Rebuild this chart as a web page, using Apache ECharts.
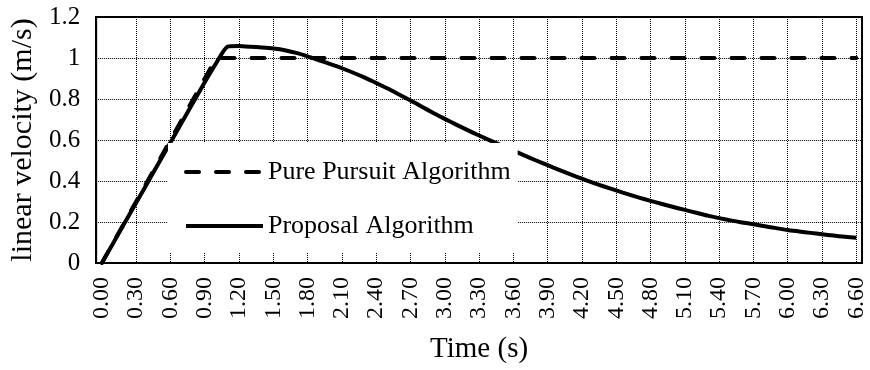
<!DOCTYPE html>
<html>
<head>
<meta charset="utf-8">
<script src="https://cdn.jsdelivr.net/npm/echarts@6/dist/echarts.min.js"></script>
<style>
html,body{margin:0;padding:0;background:#fff;}
#main{width:870px;height:370px;}
</style>
</head>
<body>
<div id="main"></div>
<script>
var times = ["0.00","0.10","0.20","0.30","0.40","0.50","0.60","0.70","0.80","0.90",
"1.00","1.10","1.20","1.30","1.40","1.50","1.60","1.70","1.80","1.90",
"2.00","2.10","2.20","2.30","2.40","2.50","2.60","2.70","2.80","2.90",
"3.00","3.10","3.20","3.30","3.40","3.50","3.60","3.70","3.80","3.90",
"4.00","4.10","4.20","4.30","4.40","4.50","4.60","4.70","4.80","4.90",
"5.00","5.10","5.20","5.30","5.40","5.50","5.60","5.70","5.80","5.90",
"6.00","6.10","6.20","6.30","6.40","6.50","6.60"];

var purePursuit = [0,0.1,0.2,0.3,0.4,0.5,0.6,0.7,0.8,0.9,
1,1,1,1,1,1,1,1,1,1,
1,1,1,1,1,1,1,1,1,1,
1,1,1,1,1,1,1,1,1,1,
1,1,1,1,1,1,1,1,1,1,
1,1,1,1,1,1,1,1,1,1,
1,1,1,1,1,1,1];

var proposal = [0,0.098,0.196,0.294,0.392,0.49,0.588,0.686,0.784,0.882,
0.975,1.055,1.058,1.055,1.051,1.046,1.038,1.025,1.008,0.989,
0.97,0.95,0.928,0.904,0.878,0.851,0.822,0.793,0.762,0.732,
0.703,0.675,0.648,0.622,0.597,0.572,0.548,0.524,0.5,0.477,
0.454,0.432,0.411,0.391,0.372,0.354,0.336,0.319,0.303,0.288,
0.273,0.259,0.245,0.231,0.219,0.208,0.198,0.189,0.179,0.17,
0.161,0.154,0.147,0.14,0.134,0.128,0.123];

var seriesNames = ["Pure Pursuit Algorithm","Proposal Algorithm"];
var yAxisTitle = "linear velocity (m/s)";
var xAxisTitle = "Time (s)";

var FONT = "'Liberation Serif','Times New Roman',serif";
var hiddenDot = {color:'rgba(0,0,0,0)',borderWidth:0,opacity:0};
var chart = echarts.init(document.getElementById('main'), null, {renderer:'canvas'});
chart.setOption({
  animation:false,
  backgroundColor:'#fff',
  grid:{left:91,right:8,top:17,bottom:107,show:true,borderColor:'#000',borderWidth:2,containLabel:false},
  legend:{
    orient:'vertical',left:168,top:143,
    padding:[14,7,12,16],
    itemGap:24,itemWidth:77,itemHeight:4,
    backgroundColor:'#fff',
    textStyle:{fontFamily:FONT,fontSize:26,color:'#000',lineHeight:30},
    data:[
      {name:seriesNames[0],itemStyle:hiddenDot,lineStyle:{color:'#000',width:4,type:[13,17],cap:'round'}},
      {name:seriesNames[1],itemStyle:hiddenDot,lineStyle:{color:'#000',width:4,type:'solid'}}
    ]
  },
  xAxis:{
    type:'category',data:times,boundaryGap:true,
    name:xAxisTitle,nameLocation:'middle',nameGap:72,
    nameTextStyle:{fontFamily:FONT,fontSize:29,color:'#000'},
    axisLine:{show:true,lineStyle:{color:'#000',width:2}},
    axisTick:{show:false},
    axisLabel:{interval:2,rotate:90,margin:14,fontFamily:FONT,fontSize:24,color:'#000'},
    splitLine:{show:true,alignWithLabel:true,
      interval:function(idx){return idx>0 && idx%3===0;},
      lineStyle:{color:'#000',width:1,type:'dotted'}}
  },
  yAxis:{
    type:'value',min:0,max:1.2,interval:0.2,
    name:yAxisTitle,nameLocation:'middle',nameGap:58,nameRotate:90,
    nameTextStyle:{fontFamily:FONT,fontSize:30,color:'#000'},
    axisLine:{show:true,lineStyle:{color:'#000',width:2}},
    axisTick:{show:false},
    axisLabel:{margin:16,fontFamily:FONT,fontSize:25,color:'#000'},
    splitLine:{show:true,lineStyle:{color:'#000',width:1,type:'dotted'}}
  },
  series:[
    {name:seriesNames[0],type:'line',data:purePursuit,symbol:'none',showSymbol:false,z:3,
     lineStyle:{color:'#000',width:4,type:[13,17],cap:'round'},itemStyle:{color:'#000'}},
    {name:seriesNames[1],type:'line',data:proposal,symbol:'none',showSymbol:false,smooth:0.2,z:2,
     lineStyle:{color:'#000',width:4,type:'solid',join:'round'},itemStyle:{color:'#000'}}
  ]
});
</script>
</body>
</html>
